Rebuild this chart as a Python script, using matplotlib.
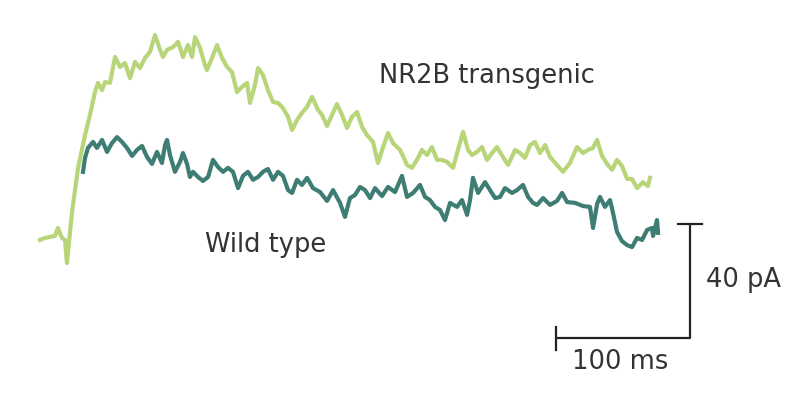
import matplotlib
matplotlib.use("Agg")
import matplotlib.pyplot as plt

# NR2B transgenic trace: time (ms), current (pA)
nr2b_t = [0, 3.7, 7.5, 11.2, 13.4, 16.4, 18.7, 20.1, 23.9, 28.4,
          33.6, 37.3, 41.0, 43.3, 46.3, 48.5, 52.2, 56.0, 59.7, 63.4,
          67.2, 70.9, 74.6, 78.4, 82.1, 85.8, 89.6, 91.8, 94.8, 99.3,
          103.0, 106.7, 110.4, 113.4, 115.7, 119.4, 123.1, 124.6, 128.4, 132.1,
          135.8, 139.6, 143.3, 147.0, 150.7, 154.5, 156.7, 160.4, 162.7, 166.4,
          170.1, 173.9, 177.6, 181.3, 185.1, 188.1, 191.8, 195.5, 199.3, 203.0,
          207.5, 210.4, 214.2, 217.9, 221.6, 225.4, 229.1, 232.8, 236.6, 240.3,
          244.0, 248.5, 252.2, 256.0, 259.7, 263.4, 268.7, 273.9, 277.6, 281.3,
          285.1, 288.8, 292.5, 296.3, 300.0, 303.7, 308.2, 311.9, 315.7, 319.4,
          322.4, 326.1, 329.9, 333.6, 337.3, 341.0, 345.5, 349.3, 354.5, 358.2,
          361.9, 365.7, 369.4, 373.1, 376.9, 380.6, 385.8, 390.3, 395.5, 400.7,
          405.2, 409.0, 412.7, 415.7, 419.4, 423.1, 426.9, 430.6, 434.3, 438.1,
          441.8, 445.5, 450.0, 453.7, 455.2]
nr2b_i = [-0.7, 0.0, 0.4, 0.7, 3.5, 0.0, -0.7, -8.8, 9.1, 24.6,
          36.1, 43.2, 51.2, 54.4, 51.9, 54.7, 54.4, 63.5, 60.0, 61.4,
          56.1, 61.8, 59.6, 63.2, 65.3, 71.2, 66.0, 63.5, 66.0, 67.0,
          68.8, 63.5, 67.7, 63.5, 70.5, 66.7, 60.7, 58.9, 63.2, 67.7,
          63.2, 60.0, 58.2, 51.2, 53.0, 54.4, 47.4, 53.7, 59.6, 57.2,
          51.9, 47.7, 47.4, 45.6, 42.5, 37.9, 41.4, 43.9, 46.0, 49.5,
          44.9, 43.2, 39.3, 43.2, 47.0, 43.2, 38.6, 42.5, 44.2, 39.0,
          36.1, 33.7, 26.3, 31.9, 36.8, 33.3, 30.9, 25.6, 24.6, 27.4,
          30.9, 29.1, 31.9, 27.4, 27.4, 26.7, 24.6, 30.9, 37.2, 30.9,
          29.1, 30.2, 31.9, 27.4, 29.8, 31.9, 28.4, 25.6, 30.9, 29.8,
          28.1, 32.6, 33.7, 29.8, 32.6, 28.4, 25.6, 23.2, 26.3, 31.9,
          29.8, 30.9, 31.6, 34.4, 28.8, 26.0, 23.9, 27.4, 25.3, 20.7,
          20.7, 17.5, 19.6, 18.2, 21.1]

# Wild type trace: time (ms), current (pA)
wt_t = [32.1, 33.6, 35.8, 39.6, 42.5, 46.3, 50.0, 53.7, 57.5, 61.2,
        64.9, 68.7, 72.4, 76.1, 79.9, 83.6, 87.3, 91.0, 93.3, 94.8,
        97.0, 100.7, 104.5, 106.7, 109.7, 111.9, 114.2, 117.9, 121.6, 125.4,
        129.1, 132.8, 136.6, 140.3, 144.0, 147.8, 151.5, 155.2, 159.0, 162.7,
        166.4, 170.1, 173.9, 177.6, 181.3, 185.1, 188.1, 191.8, 195.5, 199.3,
        203.7, 209.0, 214.2, 218.7, 223.9, 227.6, 231.3, 235.1, 238.8, 242.5,
        246.3, 250.0, 255.2, 259.7, 264.9, 270.1, 273.9, 278.4, 283.6, 287.3,
        291.0, 294.8, 298.5, 302.2, 306.0, 311.2, 314.9, 318.7, 320.9, 323.1,
        326.9, 332.1, 335.8, 339.6, 343.3, 347.0, 352.2, 356.0, 360.4, 364.2,
        367.9, 370.9, 375.4, 380.6, 385.8, 389.6, 393.3, 399.3, 405.2, 410.4,
        412.7, 415.7, 417.9, 421.6, 425.4, 427.6, 430.6, 434.3, 438.1, 441.8,
        445.5, 449.3, 453.0, 456.7, 457.5, 460.4, 461.2]
wt_i = [23.2, 28.1, 31.6, 33.7, 31.6, 34.4, 30.2, 33.3, 35.4, 33.7,
        31.6, 28.8, 30.9, 32.3, 28.4, 26.0, 30.2, 26.3, 32.6, 34.4,
        29.1, 23.2, 26.7, 29.8, 26.0, 21.4, 23.2, 21.4, 20.0, 21.4,
        27.4, 24.9, 23.2, 24.6, 23.2, 17.5, 21.8, 23.2, 20.4, 21.4,
        23.2, 24.2, 20.4, 23.2, 21.8, 16.8, 15.8, 20.4, 18.6, 21.1,
        17.5, 16.1, 13.0, 16.8, 12.3, 7.4, 14.0, 15.1, 17.9, 16.8,
        14.0, 17.5, 14.7, 17.9, 16.1, 21.8, 14.4, 15.8, 18.6, 14.4,
        13.3, 10.9, 9.8, 6.3, 12.3, 10.9, 13.3, 8.1, 13.3, 21.1,
        15.8, 19.6, 16.8, 14.0, 14.4, 17.5, 15.8, 16.8, 18.6, 14.4,
        12.3, 11.6, 14.0, 11.6, 13.0, 15.8, 12.6, 12.3, 11.2, 10.9,
        3.5, 11.9, 14.4, 10.9, 13.3, 8.8, 2.1, -1.1, -2.5, -3.2,
        0.0, -0.7, 2.8, 3.5, 0.7, 6.3, 1.8]

labels = ["NR2B transgenic", "Wild type"]
bar_time_label = "100 ms"
bar_current_label = "40 pA"
bar_time = 100   # ms
bar_current = 40  # pA

GREEN = "#b8d57a"
TEAL = "#3e7d74"
TXT = "#333333"

fig = plt.figure(figsize=(8.08, 3.93), dpi=100)
ax = fig.add_axes([0, 0, 1, 1])
ax.set_xlim(-29.85, 573.1)
ax.set_ylim(-54.4, 83.5)
ax.axis("off")

ax.plot(nr2b_t, nr2b_i, color=GREEN, lw=3.0, solid_joinstyle="round")
ax.plot(wt_t, wt_i, color=TEAL, lw=3.0, solid_joinstyle="round")

font = dict(family=["DejaVu Sans"], fontweight="normal",
            fontsize=18.5, color=TXT)
ax.text(333.6, 57.0, labels[0], ha="center", va="center", **font)
ax.text(168.0, -2.5, labels[1], ha="center", va="center", **font)

# scale bar
x0 = 385.1
x1 = x0 + bar_time
y0 = -35.1
y1 = y0 + bar_current
ax.plot([x0, x1, x1], [y0, y0, y1], color="#222222", lw=1.6, solid_capstyle="butt")
ax.plot([x0, x0], [y0 + 3.9, y0 - 4.2], color="#222222", lw=1.6)
ax.plot([x1 - 9, x1 + 9], [y1, y1], color="#222222", lw=1.6)
ax.text((x0 + x1) / 2 - 2.5, y0 - 8.5, bar_time_label, ha="center", va="center", **font)
ax.text(x1 + 12, y0 + 20.5, bar_current_label, ha="left", va="center", **font)

fig.savefig("out.png", dpi=100)
